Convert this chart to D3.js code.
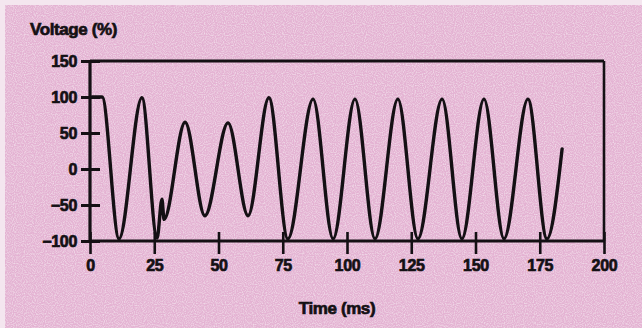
<!DOCTYPE html>
<html>
<head>
<meta charset="utf-8">
<script src="https://cdn.jsdelivr.net/npm/d3@7"></script>
<style>
  html, body { margin: 0; padding: 0; background: #ffffff; }
  svg { display: block; }
  text { font-family: "Liberation Sans", Arial, sans-serif; font-weight: bold; fill: #141014; stroke: #141014; stroke-width: 0.7px; }
</style>
</head>
<body>
<svg id="chart" width="642" height="328"></svg>
<script>
// ---- data ----
const timeMs  = [0.8, 4.7, 11.3, 20.2, 26.1, 28.0, 28.8, 37.0, 44.7, 53.7, 61.5, 69.6, 77.0, 86.8, 94.6, 103.1, 110.9, 119.8, 127.6, 137.0, 144.7, 153.3, 161.1, 170.4, 177.8, 183.7];
const voltage = [100, 100, -97, 99, -96, -42, -70, 65, -65, 64, -65, 99, -97, 97, -97, 97, -97, 97, -97, 97, -97, 97, -97, 97, -97, 28];
const xTicks = [0, 25, 50, 75, 100, 125, 150, 175, 200];
const yTicks = [-100, -50, 0, 50, 100, 150];
const yTitle = "Voltage (%)";
const xTitle = "Time (ms)";

const svg = d3.select("#chart");
const W = 642, H = 328;

// background (scanned pink page)
const defs = svg.append("defs");
const f = defs.append("filter").attr("id", "grain").attr("x", 0).attr("y", 0).attr("width", "100%").attr("height", "100%");
f.append("feTurbulence").attr("type", "fractalNoise").attr("baseFrequency", 0.9).attr("numOctaves", 1).attr("seed", 3).attr("result", "n");
f.append("feColorMatrix").attr("in", "n").attr("type", "matrix")
  .attr("values", "0 0 0 0 1  0 0 0 0 1  0 0 0 0 1  0 0 0 1.1 -0.45").attr("result", "w");
f.append("feComposite").attr("in", "w").attr("in2", "SourceGraphic").attr("operator", "in").attr("result", "wm");
f.append("feMerge").selectAll("feMergeNode").data(["SourceGraphic", "wm"]).enter().append("feMergeNode").attr("in", d => d);

svg.append("rect").attr("width", W).attr("height", H).attr("fill", "#f4e6ef");
svg.append("rect").attr("x", 5).attr("y", 5).attr("width", W - 5).attr("height", H - 5)
  .attr("fill", "#e4b3d3").attr("filter", "url(#grain)");

const x = d3.scaleLinear().domain([0, 200]).range([90, 604]);
const y = d3.scaleLinear().domain([-100, 150]).range([241, 61]);

const ink = "#141014";

// frame: top and right
svg.append("line").attr("x1", x(0)).attr("x2", x(200)).attr("y1", y(150)).attr("y2", y(150))
  .attr("stroke", ink).attr("stroke-width", 3);
svg.append("line").attr("x1", x(200)).attr("x2", x(200)).attr("y1", y(150)).attr("y2", y(-100))
  .attr("stroke", ink).attr("stroke-width", 2.6);

// y axis
const yAxis = svg.append("g").attr("transform", `translate(${x(0)},0)`)
  .call(d3.axisLeft(y).tickValues(yTicks).tickSize(10).tickPadding(4).tickFormat(d => d < 0 ? "\u2212" + Math.abs(d) : d));
yAxis.select(".domain").attr("stroke", ink).attr("stroke-width", 3.2).attr("d", `M0,${y(150)}V${y(-100)}`);
yAxis.selectAll(".tick line").attr("stroke", ink).attr("stroke-width", 3).attr("x1", -9).attr("x2", 10);
yAxis.selectAll(".tick text").attr("x", -13);

// x axis
const xAxis = svg.append("g").attr("transform", `translate(0,${y(-100)})`)
  .call(d3.axisBottom(x).tickValues(xTicks).tickSize(12).tickPadding(10));
xAxis.select(".domain").attr("stroke", ink).attr("stroke-width", 3.2).attr("d", `M${x(0)},0H${x(200)}`);
xAxis.selectAll(".tick line").attr("stroke", ink).attr("stroke-width", 2.6).attr("y1", -9).attr("y2", 13);
xAxis.selectAll(".tick text").attr("y", 24).attr("dy", "0.38em");

svg.selectAll(".tick text")
  .attr("font-family", null).attr("font-size", null).attr("fill", ink)
  .style("font-size", "16px").style("letter-spacing", "-0.3px");

// waveform
const pts = timeMs.map((t, i) => [t, voltage[i]]);
svg.append("path").datum(pts)
  .attr("fill", "none").attr("stroke", ink).attr("stroke-width", 3.4).attr("stroke-linejoin", "round").attr("stroke-linecap", "round")
  .attr("d", d3.line().x(d => x(d[0])).y(d => y(d[1])).curve(d3.curveMonotoneX));

// titles
svg.append("text").attr("x", 30).attr("y", 35).text(yTitle)
  .style("font-size", "17px").style("letter-spacing", "-0.4px");
svg.append("text").attr("x", 337).attr("y", 314).attr("text-anchor", "middle").text(xTitle)
  .style("font-size", "17px").style("letter-spacing", "-0.4px");
</script>
</body>
</html>
